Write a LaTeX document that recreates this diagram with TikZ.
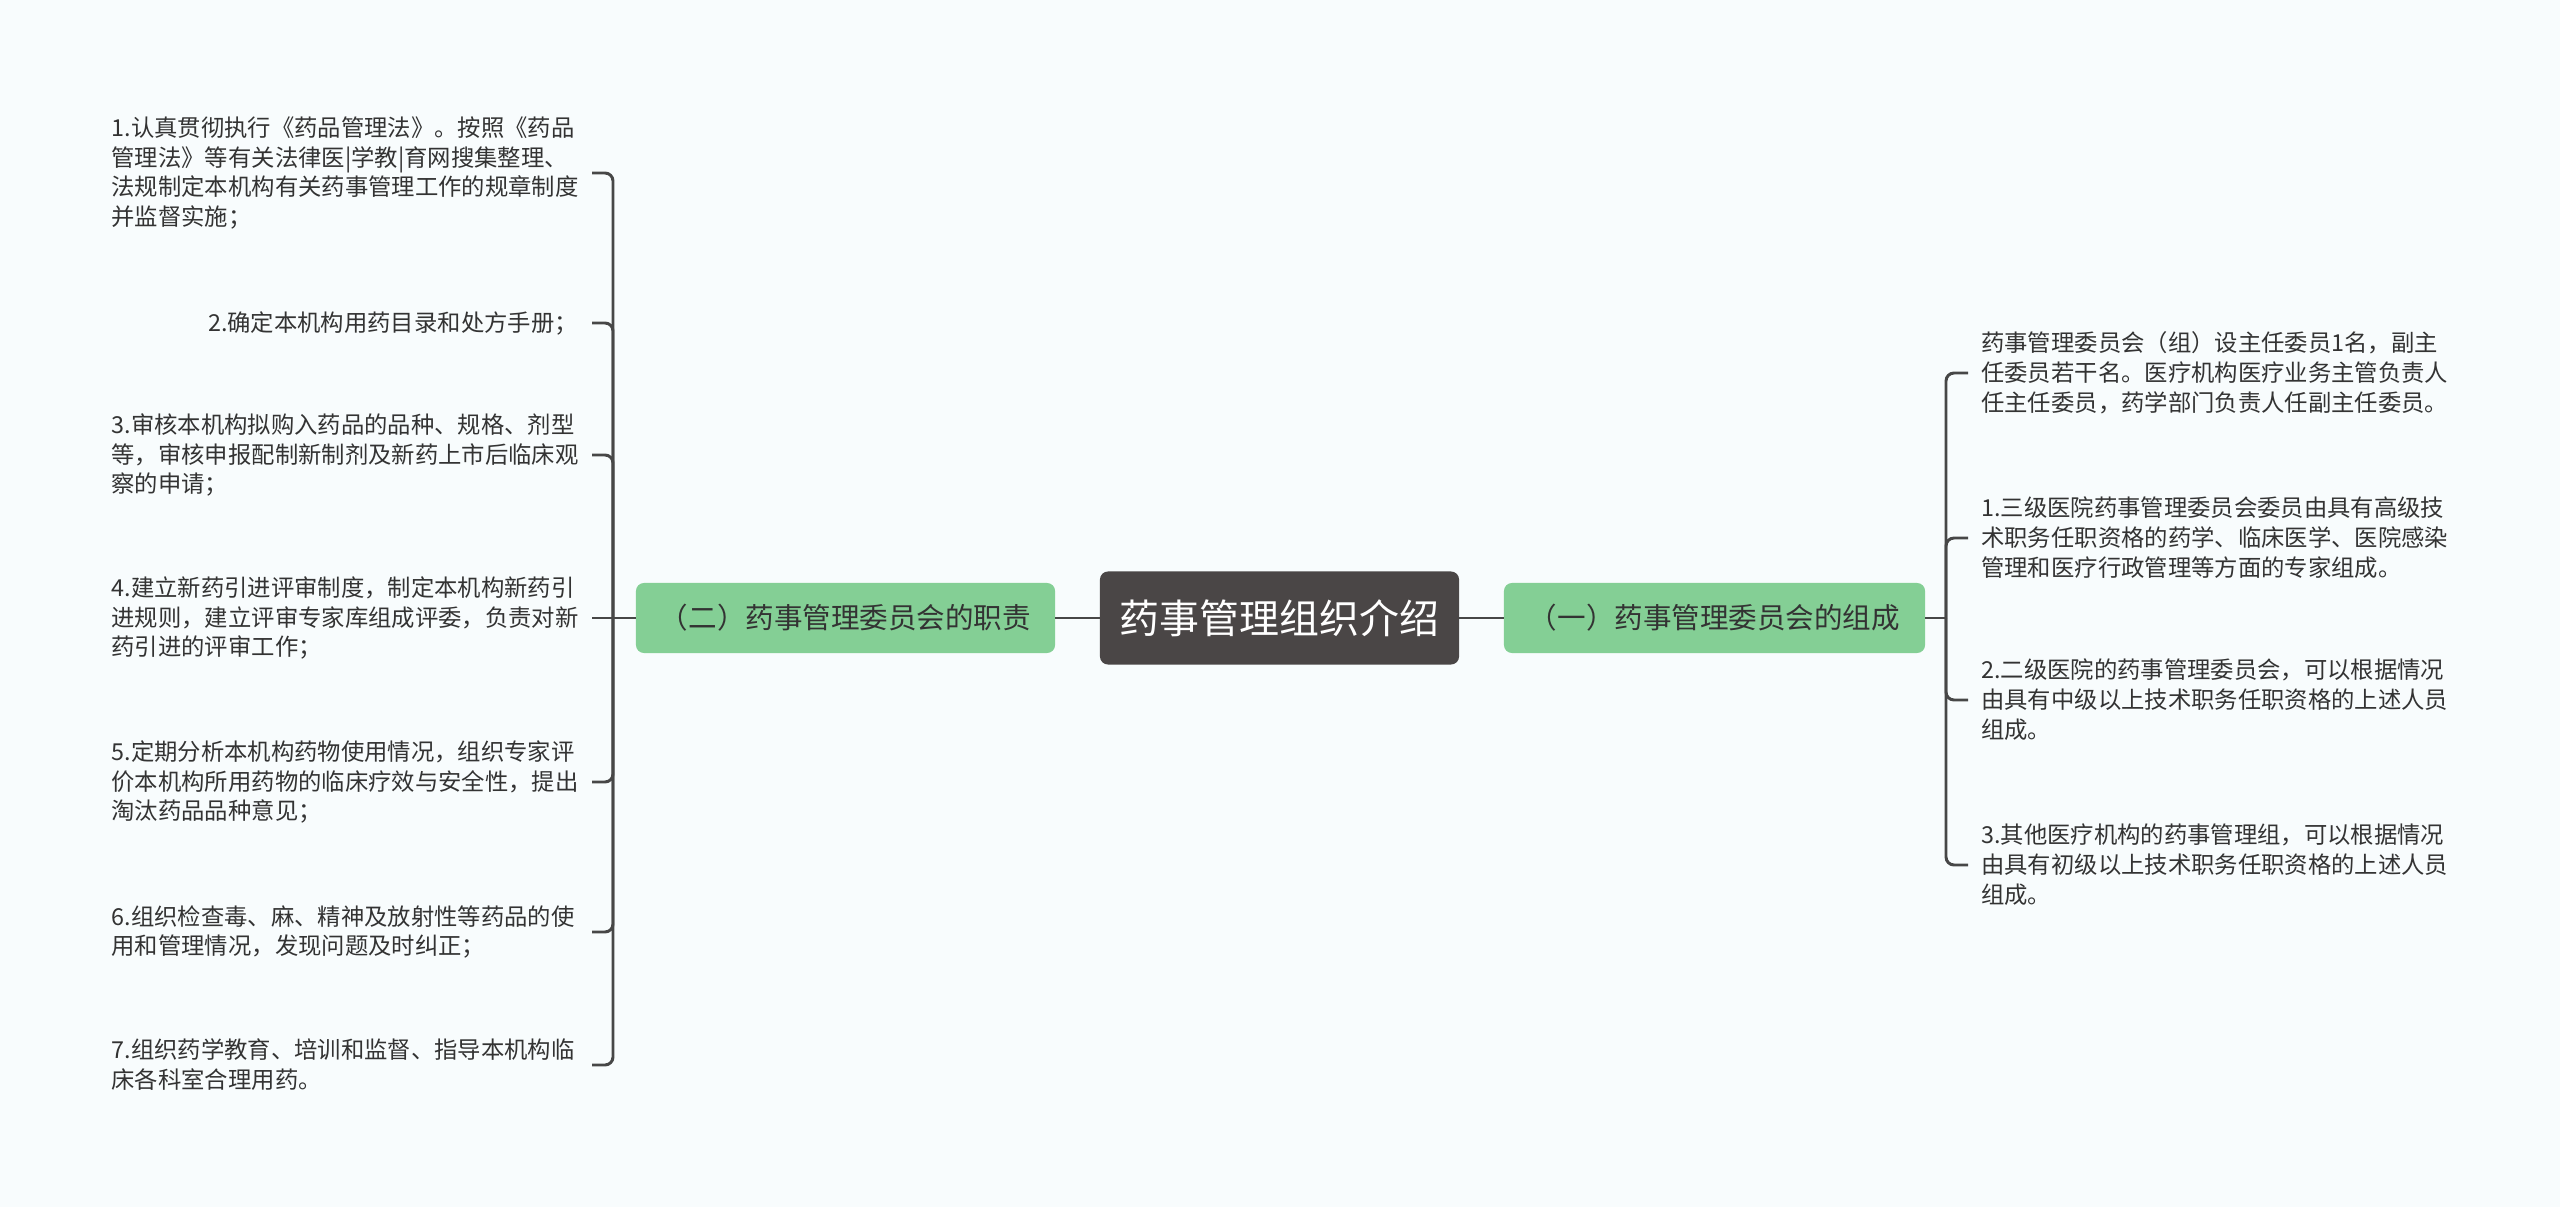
\documentclass[tikz,border=0pt]{standalone}
\usepackage{fontspec}
\setmainfont{Noto Sans CJK SC}
\usetikzlibrary{calc}

\definecolor{bgcol}{HTML}{F8FCFD}
\definecolor{rootcol}{HTML}{4A4646}
\definecolor{groupcol}{HTML}{84CF95}
\definecolor{linkcol}{HTML}{474747}
\definecolor{txtcol}{HTML}{333333}

\begin{document}
\begin{tikzpicture}[x=0.025cm,y=-0.025cm,
   root/.style={fill=rootcol,text=white,rounded corners=0.2cm,minimum width=8.975cm,minimum height=2.325cm,font=\fontsize{28.4pt}{34pt}\selectfont},
   group/.style={fill=groupcol,text=txtcol,rounded corners=0.2cm,minimum height=1.75cm,font=\fontsize{20.3pt}{24pt}\selectfont},
   leaf/.style={text=txtcol,inner sep=0pt,align=left,font=\fontsize{16.6pt}{21.3pt}\selectfont},
   wideleaf/.style={leaf,text width=11.65cm},
   link/.style={draw=linkcol,line width=2.1pt,rounded corners=0.2cm}]
   \useasboundingbox[fill=bgcol] (0,0) rectangle (2560,1207);

   \node[root] (root) at (1279.5,618) {药事管理组织介绍};
   \node[group,minimum width=10.475cm] (duty) at (845.5,618) {（二）药事管理委员会的职责};
   \node[group,minimum width=10.525cm] (form) at (1714.5,618) {（一）药事管理委员会的组成};

   % left side
   \node[wideleaf,anchor=east] (d1) at (578,173) {1.认真贯彻执行《药品管理法》。按照《药品\\管理法》等有关法律医|学教|育网搜集整理、\\法规制定本机构有关药事管理工作的规章制度\\并监督实施；};
   \node[leaf,anchor=east] (d2) at (578,323) {2.确定本机构用药目录和处方手册；};
   \node[wideleaf,anchor=east] (d3) at (578,455) {3.审核本机构拟购入药品的品种、规格、剂型\\等，审核申报配制新制剂及新药上市后临床观\\察的申请；};
   \node[wideleaf,anchor=east] (d4) at (578,618) {4.建立新药引进评审制度，制定本机构新药引\\进规则，建立评审专家库组成评委，负责对新\\药引进的评审工作；};
   \node[wideleaf,anchor=east] (d5) at (578,782) {5.定期分析本机构药物使用情况，组织专家评\\价本机构所用药物的临床疗效与安全性，提出\\淘汰药品品种意见；};
   \node[wideleaf,anchor=east] (d6) at (578,932) {6.组织检查毒、麻、精神及放射性等药品的使\\用和管理情况，发现问题及时纠正；};
   \node[wideleaf,anchor=east] (d7) at (578,1065) {7.组织药学教育、培训和监督、指导本机构临\\床各科室合理用药。};

   % right side
   \node[leaf,anchor=west] (f0) at (1981,373) {药事管理委员会（组）设主任委员1名，副主\\任委员若干名。医疗机构医疗业务主管负责人\\任主任委员，药学部门负责人任副主任委员。};
   \node[leaf,anchor=west] (f1) at (1981,538) {1.三级医院药事管理委员会委员由具有高级技\\术职务任职资格的药学、临床医学、医院感染\\管理和医疗行政管理等方面的专家组成。};
   \node[leaf,anchor=west] (f2) at (1981,700) {2.二级医院的药事管理委员会，可以根据情况\\由具有中级以上技术职务任职资格的上述人员\\组成。};
   \node[leaf,anchor=west] (f3) at (1981,865) {3.其他医疗机构的药事管理组，可以根据情况\\由具有初级以上技术职务任职资格的上述人员\\组成。};

   \coordinate (dhub) at (613,618);
   \coordinate (fhub) at (1946,618);

   \draw[link] (root) -- (duty);
   \draw[link] (root) -- (form);
   \draw[link] (duty.west) -- ([xshift=3.5mm]d4.east);
   \foreach \n in {d1,d2,d3,d5,d6,d7}
      \draw[link] (dhub) |- ([xshift=3.5mm]\n.east);
   \draw[link] (form.east) -- (fhub);
   \foreach \n in {f0,f1,f2,f3}
      \draw[link] (fhub) |- ([xshift=-3.25mm]\n.west);
\end{tikzpicture}
\end{document}
